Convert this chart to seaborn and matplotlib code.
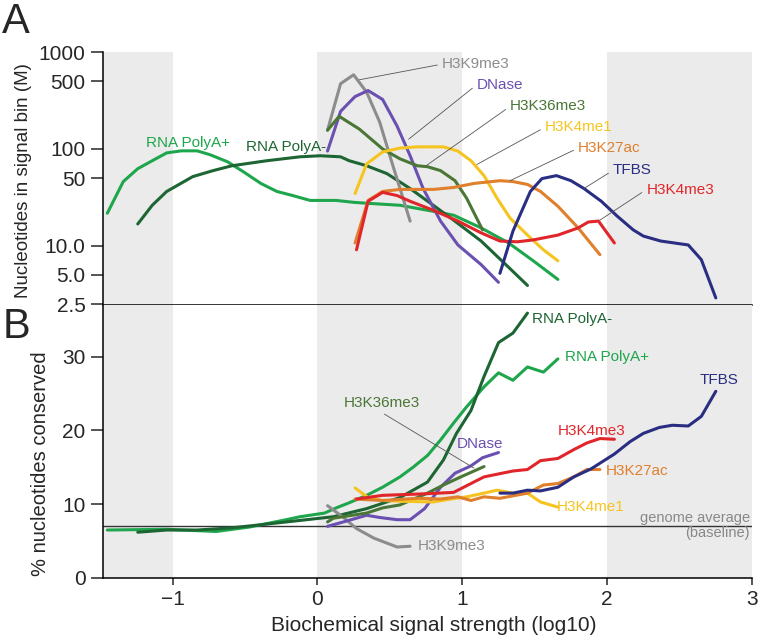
import numpy as np
import pandas as pd
import matplotlib
matplotlib.use("Agg")
import matplotlib.pyplot as plt
import seaborn as sns

sns.set_style("white")
plt.rcParams['font.family'] = ['Liberation Sans', 'DejaVu Sans']

tracks = ["RNA PolyA+", "RNA PolyA-", "H3K9me3", "DNase", "H3K36me3",
          "H3K4me1", "H3K27ac", "H3K4me3", "TFBS"]
colors = {
    "RNA PolyA+": "#1ea64c",
    "RNA PolyA-": "#1d6533",
    "H3K9me3": "#8c8c8c",
    "DNase": "#6a50b0",
    "H3K36me3": "#4a7636",
    "H3K4me1": "#f6c420",
    "H3K27ac": "#e07f2c",
    "H3K4me3": "#e0262a",
    "TFBS": "#2a2e82",
}

# panel A: nucleotides in signal bin (M), log scale
a_polyA_plus_x = [-1.45, -1.34, -1.24, -1.14, -1.04, -0.94, -0.83, -0.74, -0.62, -0.51, -0.39, -0.28,
                  -0.17, -0.05, 0.13, 0.25, 0.34, 0.57, 0.80, 0.94, 1.13, 1.32, 1.49, 1.66]
a_polyA_plus_y = [21.7, 46, 62.5, 75.5, 91, 95.5, 95.5, 87, 73.6, 58, 44, 36.4,
                  33, 29.4, 29.4, 28.1, 27.5, 26.2, 22.7, 20.7, 15.3, 10.7, 7.0, 4.5]
a_polyA_minus_x = [-1.24, -1.14, -1.04, -0.86, -0.72, -0.59, -0.35, -0.12, 0.02, 0.16, 0.22, 0.34,
                   0.48, 0.64, 0.80, 0.94, 1.13, 1.32, 1.45]
a_polyA_minus_y = [16.8, 26.2, 36.4, 51.8, 59.7, 67, 75.5, 82.9, 85, 82.9, 75.5, 67,
                   55.6, 39, 26.2, 18.4, 11.2, 6.0, 3.9]
a_h3k9_x = [0.07, 0.16, 0.25, 0.34, 0.43, 0.52, 0.64]
a_h3k9_y = [156, 471, 582, 385, 189, 68, 18]
a_dnase_x = [0.07, 0.16, 0.26, 0.35, 0.45, 0.55, 0.64, 0.73, 0.85, 0.97, 1.13, 1.25]
a_dnase_y = [95, 244, 347, 400, 324, 172, 85, 39, 18, 10.2, 6.4, 4.2]
a_h3k36_x = [0.07, 0.15, 0.29, 0.45, 0.57, 0.69, 0.76, 0.85, 0.95, 1.03, 1.14]
a_h3k36_y = [156, 217, 160, 100, 79, 67, 65.5, 59.7, 47, 31, 14.6]
a_h3k4me1_x = [0.26, 0.34, 0.45, 0.57, 0.69, 0.87, 0.97, 1.06, 1.15, 1.24, 1.33, 1.45, 1.56, 1.66]
a_h3k4me1_y = [34.7, 70, 93, 102, 105, 105, 95, 75.5, 53, 31, 19.3, 12.9, 9.1, 7.0]
a_h3k27_x = [0.26, 0.35, 0.45, 0.57, 0.80, 0.94, 1.08, 1.26, 1.35, 1.45, 1.54, 1.66, 1.80, 1.95]
a_h3k27_y = [10.7, 29.4, 36.4, 38.2, 38.2, 40, 44, 47, 46, 43, 36.4, 25.6, 15.3, 8.1]
a_h3k4me3_x = [0.27, 0.35, 0.45, 0.55, 0.64, 0.80, 0.97, 1.13, 1.26, 1.38, 1.49, 1.66, 1.80, 1.87, 1.94, 2.05]
a_h3k4me3_y = [9.1, 28.8, 35.6, 33, 28.8, 23.3, 18, 13.6, 11.2, 11.0, 11.5, 12.9, 15.3, 17.6, 18, 10.7]
a_tfbs_x = [1.26, 1.35, 1.47, 1.55, 1.65, 1.75, 1.84, 1.96, 2.07, 2.18, 2.25, 2.37, 2.56, 2.65, 2.75]
a_tfbs_y = [5.2, 14.2, 36.4, 49.4, 53, 47, 39, 28.8, 20.2, 14.6, 12.6, 11.2, 10.2, 7.2, 2.9]

# panel B: % nucleotides conserved
b_polyA_plus_x = [-1.45, -1.04, -0.70, -0.47, -0.24, -0.12, 0.05, 0.13, 0.22, 0.34, 0.45, 0.57,
                  0.66, 0.76, 0.85, 0.94, 1.03, 1.15, 1.25, 1.35, 1.45, 1.56, 1.66]
b_polyA_plus_y = [6.5, 6.6, 6.3, 6.9, 7.8, 8.3, 8.8, 9.5, 10.2, 11.2, 12.3, 13.7,
                  15.0, 16.6, 18.7, 21.0, 23.2, 25.9, 27.8, 26.8, 28.6, 27.9, 29.7]
b_polyA_minus_x = [-1.24, -1.04, -0.83, -0.59, -0.35, -0.12, 0.11, 0.34, 0.57, 0.76, 0.87, 0.96,
                   1.06, 1.15, 1.25, 1.35, 1.45]
b_polyA_minus_y = [6.2, 6.5, 6.5, 6.8, 7.3, 7.8, 8.3, 9.4, 10.9, 13.0, 16.0, 19.6,
                   22.7, 27.3, 31.9, 33.2, 35.9]
b_h3k9_x = [0.07, 0.18, 0.27, 0.39, 0.55, 0.64]
b_h3k9_y = [9.8, 8.2, 6.7, 5.4, 4.2, 4.3]
b_dnase_x = [0.07, 0.18, 0.34, 0.43, 0.55, 0.64, 0.74, 0.85, 0.95, 1.06, 1.14, 1.25]
b_dnase_y = [7.0, 7.6, 8.5, 8.2, 7.9, 7.9, 9.4, 12.3, 14.2, 15.2, 16.3, 17.0]
b_h3k36_x = [0.07, 0.11, 0.34, 0.45, 0.57, 0.76, 0.87, 0.99, 1.15]
b_h3k36_y = [7.6, 8.1, 8.8, 9.5, 9.9, 11.5, 12.6, 13.7, 15.1]
b_h3k4me1_x = [0.26, 0.35, 0.45, 0.57, 0.80, 0.92, 1.03, 1.15, 1.24, 1.35, 1.45, 1.54, 1.66]
b_h3k4me1_y = [12.2, 10.9, 10.5, 10.4, 10.3, 10.7, 11.0, 11.5, 11.9, 11.5, 11.5, 10.3, 9.6]
b_h3k27_x = [0.26, 0.45, 0.69, 0.85, 0.97, 1.06, 1.15, 1.26, 1.45, 1.56, 1.66, 1.77, 1.86, 1.95]
b_h3k27_y = [10.7, 10.5, 10.8, 10.7, 11.0, 10.5, 11.0, 10.8, 11.5, 12.6, 12.8, 13.7, 14.7, 14.7]
b_h3k4me3_x = [0.27, 0.45, 0.73, 0.94, 1.06, 1.15, 1.35, 1.45, 1.54, 1.66, 1.77, 1.86, 1.95, 2.05]
b_h3k4me3_y = [10.7, 11.2, 11.4, 11.6, 12.8, 13.7, 14.5, 14.7, 15.9, 16.2, 17.4, 18.3, 18.9, 18.8]
b_tfbs_x = [1.26, 1.35, 1.45, 1.54, 1.66, 1.77, 1.89, 2.05, 2.16, 2.25, 2.36, 2.45, 2.56, 2.65, 2.75]
b_tfbs_y = [11.5, 11.5, 11.9, 11.8, 12.3, 13.7, 14.8, 16.8, 18.5, 19.6, 20.4, 20.7, 20.6, 21.9, 25.3]

genome_average = 7.1


def long_frame(pairs):
    rows = []
    for name, xs, ys in pairs:
        rows.append(pd.DataFrame({"track": name, "x": xs, "y": ys}))
    return pd.concat(rows, ignore_index=True)


df_a = long_frame([
    ("RNA PolyA+", a_polyA_plus_x, a_polyA_plus_y),
    ("RNA PolyA-", a_polyA_minus_x, a_polyA_minus_y),
    ("H3K9me3", a_h3k9_x, a_h3k9_y),
    ("DNase", a_dnase_x, a_dnase_y),
    ("H3K36me3", a_h3k36_x, a_h3k36_y),
    ("H3K4me1", a_h3k4me1_x, a_h3k4me1_y),
    ("H3K27ac", a_h3k27_x, a_h3k27_y),
    ("H3K4me3", a_h3k4me3_x, a_h3k4me3_y),
    ("TFBS", a_tfbs_x, a_tfbs_y),
])
df_b = long_frame([
    ("RNA PolyA+", b_polyA_plus_x, b_polyA_plus_y),
    ("RNA PolyA-", b_polyA_minus_x, b_polyA_minus_y),
    ("H3K9me3", b_h3k9_x, b_h3k9_y),
    ("DNase", b_dnase_x, b_dnase_y),
    ("H3K36me3", b_h3k36_x, b_h3k36_y),
    ("H3K4me1", b_h3k4me1_x, b_h3k4me1_y),
    ("H3K27ac", b_h3k27_x, b_h3k27_y),
    ("H3K4me3", b_h3k4me3_x, b_h3k4me3_y),
    ("TFBS", b_tfbs_x, b_tfbs_y),
])

fig = plt.figure(figsize=(7.6, 6.39), dpi=100)
ax_a = fig.add_axes([0.1355, 0.5227, 0.854, 0.3959])
ax_b = fig.add_axes([0.1355, 0.0955, 0.854, 0.4272])

band = "#ebebeb"
for ax in (ax_a, ax_b):
    for lo, hi in [(-1.5, -1), (0, 1), (2, 3)]:
        ax.axvspan(lo, hi, color=band, lw=0, zorder=0)
    ax.set_xlim(-1.48, 3.0)
    for s in ("top", "right"):
        ax.spines[s].set_visible(False)
    for s in ("left", "bottom"):
        ax.spines[s].set_linewidth(1.1)
        ax.spines[s].set_color("black")

sns.lineplot(data=df_a, x="x", y="y", hue="track", hue_order=tracks, palette=colors,
             sort=False, estimator=None, linewidth=2.2, legend=False, ax=ax_a)
sns.lineplot(data=df_b, x="x", y="y", hue="track", hue_order=tracks, palette=colors,
             sort=False, estimator=None, linewidth=2.2, legend=False, ax=ax_b)

# panel A axes
ax_a.set_yscale("log")
ax_a.set_ylim(2.45, 1000)
ax_a.set_yticks([2.5, 5, 10, 50, 100, 500, 1000])
ax_a.set_yticklabels(["2.5", "5.0", "10.0", "50", "100", "500", "1000"])
ax_a.yaxis.set_minor_locator(matplotlib.ticker.NullLocator())
ax_a.tick_params(axis="y", length=9, width=1.1, labelsize=15, direction="out", left=True)
ax_a.tick_params(axis="x", bottom=False, labelbottom=False)
ax_a.set_xlabel("")
ax_a.set_ylabel("Nucleotides in signal bin (M)", fontsize=13.5)
ax_a.yaxis.set_label_coords(-0.109, 0.49)

lead = dict(arrowstyle="-", color="#555555", lw=0.6, shrinkA=1, shrinkB=0, relpos=(0, 0.5))
a_labels = [
    ("H3K9me3", (0.29, 517), (0.86, 750)),
    ("DNase", (0.63, 126), (1.10, 460)),
    ("H3K36me3", (0.75, 67), (1.33, 275)),
    ("H3K4me1", (1.10, 69), (1.57, 167)),
    ("H3K27ac", (1.33, 47), (1.80, 102)),
    ("TFBS", (1.84, 39), (2.04, 60)),
    ("H3K4me3", (1.95, 18.4), (2.27, 38)),
]
for name, xy, xyt in a_labels:
    ax_a.annotate(name, xy=xy, xytext=xyt, color=colors[name], fontsize=11,
                  ha="left", va="center", arrowprops=lead)
ax_a.text(-1.18, 115, "RNA PolyA+", color=colors["RNA PolyA+"], fontsize=11, va="center")
ax_a.text(-0.49, 105, "RNA PolyA-", color=colors["RNA PolyA-"], fontsize=11, va="center")

# panel B axes
ax_b.set_ylim(0, 37)
ax_b.set_yticks([0, 10, 20, 30])
ax_b.set_xticks([-1, 0, 1, 2, 3])
ax_b.set_xticklabels(["\u22121", "0", "1", "2", "3"])
ax_b.tick_params(axis="y", length=9, width=1.1, labelsize=15, direction="out", left=True)
ax_b.tick_params(axis="x", length=5, width=1.1, labelsize=15, direction="out", bottom=True)
ax_b.set_ylabel("% nucleotides conserved", fontsize=14.5)
ax_b.yaxis.set_label_coords(-0.082, 0.42)
ax_b.set_xlabel("Biochemical signal strength (log10)", fontsize=15)
ax_b.xaxis.set_label_coords(0.51, -0.14)

ax_b.axhline(genome_average, color="#333333", lw=1.0, zorder=1)
ax_b.text(2.985, genome_average, "genome average\n(baseline)", color="#888888",
          fontsize=10.5, ha="right", va="center", linespacing=1.15)
ax_b.text(0.69, 4.3, "H3K9me3", color=colors["H3K9me3"], fontsize=11, va="center")

b_labels = [
    ("RNA PolyA-", 1.48, 35.1),
    ("RNA PolyA+", 1.71, 29.9),
    ("TFBS", 2.64, 26.9),
    ("H3K4me3", 1.66, 19.9),
    ("DNase", 0.965, 18.1),
    ("H3K27ac", 1.99, 14.5),
    ("H3K4me1", 1.65, 9.6),
]
for name, tx, ty in b_labels:
    ax_b.text(tx, ty, name, color=colors[name], fontsize=11, va="center")
ax_b.annotate("H3K36me3", xy=(1.08, 14.9), xytext=(0.18, 23.7), color=colors["H3K36me3"],
              fontsize=11, ha="left", va="center",
              arrowprops=dict(arrowstyle="-", color="#555555", lw=0.6, shrinkA=1, shrinkB=0,
                              relpos=(0.45, 0.0)))

fig.text(0.003, 0.948, "A", fontsize=30, va="baseline")
fig.text(0.003, 0.471, "B", fontsize=30, va="baseline")

fig.savefig("out.png", dpi=100)
